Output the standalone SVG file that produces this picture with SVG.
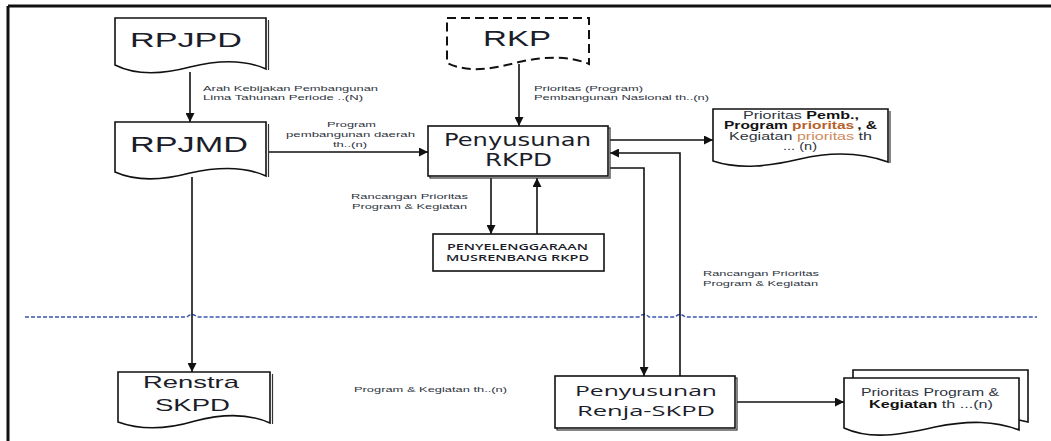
<svg xmlns="http://www.w3.org/2000/svg" width="1051" height="441" viewBox="0 0 1051 441">
<style>
.shape{fill:#fff;stroke:#111;stroke-width:1.6}
.shadow{fill:none;stroke:#333;stroke-width:1.2}
.dash{fill:#fff;stroke:#111;stroke-width:2;stroke-dasharray:9,5}
.con{fill:none;stroke:#111;stroke-width:1.6}
.big{font-family:"Liberation Sans",Arial,sans-serif;fill:#1b1d2a}
.dv{font-family:"DejaVu Sans",Verdana,sans-serif;fill:#1b1d2a}
.os{font-family:"Open Sans","DejaVu Sans",sans-serif;fill:#1b1d2a}
.lbl{font-family:"Liberation Sans",Arial,sans-serif;font-size:8px;fill:#2e3440}
.doc{font-family:"Liberation Sans",Arial,sans-serif;font-size:10.5px;fill:#2e3440}
.b{font-weight:bold;fill:#111}
.or1{fill:#b5602a;font-weight:bold}
.or2{fill:#cf8a5a}
</style>
<defs>
<marker id="ah" viewBox="0 0 10 10" refX="10" refY="5" markerWidth="10" markerHeight="9" markerUnits="userSpaceOnUse" orient="auto">
<path d="M0,0 L10,5 L0,10 Z" fill="#111"/>
</marker>
</defs>

<!-- frame -->
<path d="M8,6 H1051 M8,6 V441" fill="none" stroke="#111" stroke-width="3"/>

<!-- swimlane separator -->
<path d="M25,317 H187 q5,-5 10,0 H639 q5,-5 10,0 H675 q5,-5 10,0 H1037" fill="none" stroke="#3a55b0" stroke-width="1.4" stroke-dasharray="4,2"/>

<g id="connectors">
<path class="con" d="M190,72 V122" marker-end="url(#ah)"/>
<path class="con" d="M269,152 H428" marker-end="url(#ah)"/>
<path class="con" d="M519,64 V126" marker-end="url(#ah)"/>
<path class="con" d="M610,140 H713" marker-end="url(#ah)"/>
<path class="con" d="M680,376 V153 H610" marker-end="url(#ah)"/>
<path class="con" d="M610,168 H644 V376" marker-end="url(#ah)"/>
<path class="con" d="M491,178 V234" marker-end="url(#ah)"/>
<path class="con" d="M537,234 V178" marker-end="url(#ah)"/>
<path class="con" d="M192,177 V372" marker-end="url(#ah)"/>
<path class="con" d="M737,402 H844" marker-end="url(#ah)"/>
<text class="lbl" x="203" y="91" textLength="175" lengthAdjust="spacingAndGlyphs">Arah Kebijakan Pembangunan</text>
<text class="lbl" x="203" y="100" textLength="160" lengthAdjust="spacingAndGlyphs">Lima Tahunan Periode ..(N)</text>
<text class="lbl" x="327" y="127" textLength="49" lengthAdjust="spacingAndGlyphs">Program</text>
<text class="lbl" x="286" y="137" textLength="129" lengthAdjust="spacingAndGlyphs">pembangunan daerah</text>
<text class="lbl" x="333" y="147" textLength="34" lengthAdjust="spacingAndGlyphs">th..(n)</text>
<text class="lbl" x="534" y="91" textLength="109" lengthAdjust="spacingAndGlyphs">Prioritas (Program)</text>
<text class="lbl" x="534" y="100" textLength="175" lengthAdjust="spacingAndGlyphs">Pembangunan Nasional th..(n)</text>
<text class="lbl" x="351" y="199" textLength="117" lengthAdjust="spacingAndGlyphs">Rancangan Prioritas</text>
<text class="lbl" x="352" y="209" textLength="115" lengthAdjust="spacingAndGlyphs">Program &amp; Kegiatan</text>
<text class="lbl" x="703" y="276" textLength="116" lengthAdjust="spacingAndGlyphs">Rancangan Prioritas</text>
<text class="lbl" x="703" y="286" textLength="115" lengthAdjust="spacingAndGlyphs">Program &amp; Kegiatan</text>
<text class="lbl" x="354" y="392" textLength="153" lengthAdjust="spacingAndGlyphs">Program &amp; Kegiatan th..(n)</text>
</g>

<g id="rpjpd">
<path class="shape" d="M115,18 H266 V69 C246,60 222,59 190,67 C160,75 135,75 115,65 Z"/>
<path class="shadow" d="M268.5,20 V70"/>
<text class="big" x="130" y="47" font-size="21" textLength="112" lengthAdjust="spacingAndGlyphs">RPJPD</text>
</g>

<g id="rpjmd">
<path class="shape" d="M115,122 H266 V176 C246,167 222,166 190,173 C160,181 135,181 115,172 Z"/>
<path class="shadow" d="M268.5,124 V177"/>
<text class="big" x="130" y="152" font-size="22" textLength="118" lengthAdjust="spacingAndGlyphs">RPJMD</text>
</g>

<g id="rkp">
<path class="dash" d="M447,18 H589 V64 C570,56 545,56 519,62 C495,68 470,74 447,63 Z"/>
<text class="big" x="483" y="46" font-size="22" textLength="68" lengthAdjust="spacingAndGlyphs">RKP</text>
</g>

<g id="rkpd">
<rect x="430" y="128" width="180" height="50" fill="none" stroke="#333" stroke-width="1.2"/>
<rect class="shape" x="428" y="126" width="180" height="50"/>
<text class="dv" x="444" y="146" font-size="17" textLength="147" lengthAdjust="spacingAndGlyphs">Penyusunan</text>
<text class="dv" x="485" y="166" font-size="17" textLength="67" lengthAdjust="spacingAndGlyphs">RKPD</text>
</g>

<g id="prioritas-pemb">
<path class="shape" d="M713,109 H888 V162 C860,152 830,152 800,159 C770,166 740,170 713,161 Z"/>
<path class="shadow" d="M890,111 V163"/>
<text class="doc" x="743" y="119" textLength="116" lengthAdjust="spacingAndGlyphs">Prioritas <tspan class="b">Pemb.,</tspan></text>
<text class="doc" x="724" y="129" textLength="153" lengthAdjust="spacingAndGlyphs"><tspan class="b">Program</tspan> <tspan class="or1">prioritas</tspan><tspan class="b" dx="2">, &amp;</tspan></text>
<text class="doc" x="729" y="140" textLength="143" lengthAdjust="spacingAndGlyphs">Kegiatan <tspan class="or2">prioritas</tspan> th</text>
<text class="doc" x="783" y="150" textLength="34" lengthAdjust="spacingAndGlyphs">... (n)</text>
</g>

<g id="musrenbang">
<rect class="shape" x="433" y="234" width="171" height="37"/>
<text class="os" x="447" y="250" font-size="9.5" font-weight="600" textLength="141" lengthAdjust="spacingAndGlyphs">PENYELENGGARAAN</text>
<text class="os" x="446" y="261" font-size="9.5" font-weight="600" textLength="143" lengthAdjust="spacingAndGlyphs">MUSRENBANG RKPD</text>
</g>

<g id="renstra">
<path class="shape" d="M118,372 H270 V423 C250,414 226,413 195,421 C165,430 140,430 118,422 Z"/>
<path class="shadow" d="M272.5,374 V424"/>
<text class="big" x="143" y="388" font-size="17" textLength="96" lengthAdjust="spacingAndGlyphs">Renstra</text>
<text class="big" x="155" y="411" font-size="17" textLength="75" lengthAdjust="spacingAndGlyphs">SKPD</text>
</g>

<g id="renja">
<rect x="557" y="378" width="180" height="52" fill="none" stroke="#333" stroke-width="1.2"/>
<rect class="shape" x="555" y="376" width="180" height="52"/>
<text class="os" x="575" y="396" font-size="15" textLength="142" lengthAdjust="spacingAndGlyphs">Penyusunan</text>
<text class="os" x="577" y="416" font-size="15" textLength="138" lengthAdjust="spacingAndGlyphs">Renja-SKPD</text>
</g>

<g id="prioritas-program">
<path class="shape" d="M853,378 V370 H1028 V422 L1019,420"/>
<path class="shape" d="M844,378 H1019 V430 C995,421 970,420 935,427 C900,435 870,440 844,428 Z"/>
<text class="doc" x="861" y="396" font-size="10" textLength="138" lengthAdjust="spacingAndGlyphs">Prioritas Program  &amp;</text>
<text class="doc" x="869" y="408" font-size="10" textLength="124" lengthAdjust="spacingAndGlyphs"><tspan class="b">Kegiatan</tspan> th ...(n)</text>
</g>
</svg>
